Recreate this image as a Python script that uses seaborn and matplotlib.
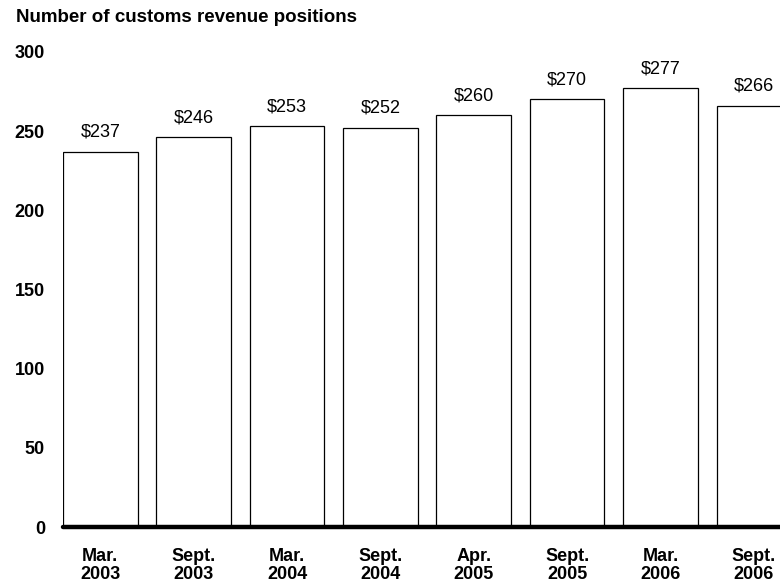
import matplotlib
matplotlib.use('Agg')
import matplotlib.pyplot as plt
import seaborn as sns
import pandas as pd

# Data
periods = ['Mar.\n2003', 'Sept.\n2003', 'Mar.\n2004', 'Sept.\n2004',
           'Apr.\n2005', 'Sept.\n2005', 'Mar.\n2006', 'Sept.\n2006']
positions = [237, 246, 253, 252, 260, 270, 277, 266]
y_ticks = [0, 50, 100, 150, 200, 250, 300]
title = 'Number of customs revenue positions'

df = pd.DataFrame({'period': periods, 'positions': positions})

sns.set_style('white')
plt.rcParams['font.family'] = ['Liberation Sans', 'DejaVu Sans']
plt.rcParams['text.color'] = 'black'
plt.rcParams['xtick.color'] = 'black'
plt.rcParams['ytick.color'] = 'black'

fig = plt.figure(figsize=(7.8, 5.84), dpi=100)
ax = fig.add_axes([63 / 780, 1 - 527 / 584, 1 - 63 / 780, (527 - 52) / 584])

sns.barplot(data=df, x='period', y='positions', ax=ax, color='white',
            edgecolor='black', linewidth=0.9, width=0.8, saturation=1)

for i, v in enumerate(positions):
    ax.text(i, v + 7, f'${v}', ha='center', va='bottom', fontsize=13)

ax.axhline(0, color='black', lw=3.2, clip_on=False, zorder=5)

ax.set_ylim(0, 300)
ax.set_xlim(-0.4, 7.28)
ax.set_yticks(y_ticks)
ax.set_yticklabels([str(t) for t in y_ticks], fontsize=13, fontweight='bold')
ax.set_xticks(range(len(periods)))
ax.set_xticklabels(periods, fontsize=13, fontweight='bold', linespacing=1.12)
ax.tick_params(axis='y', length=0, pad=13)
ax.tick_params(axis='x', length=0, pad=15)
ax.set_xlabel('')
ax.set_ylabel('')
for s in ax.spines.values():
    s.set_visible(False)

fig.text(16 / 780, 1 - 17 / 584, title, fontsize=13.5, fontweight='bold',
         ha='left', va='center')

fig.savefig('out.png', dpi=100)
